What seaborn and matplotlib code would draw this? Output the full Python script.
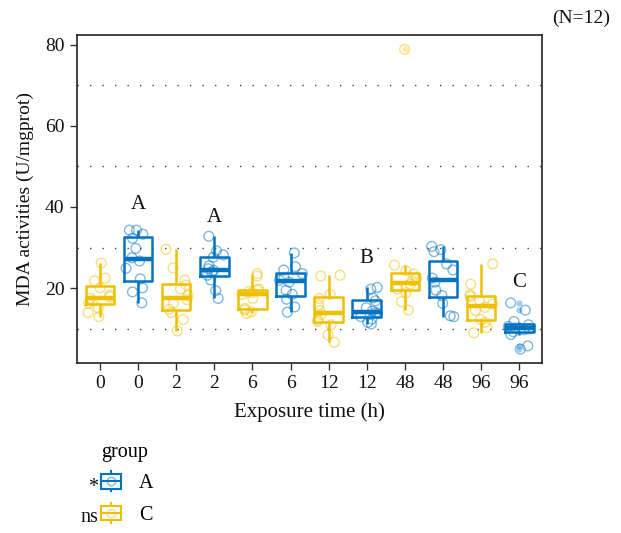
import numpy as np
import pandas as pd
import matplotlib
matplotlib.use("Agg")
import matplotlib.pyplot as plt
import seaborn as sns
from matplotlib.patches import Rectangle
from matplotlib.lines import Line2D
from matplotlib.legend_handler import HandlerTuple

# ---------------- data ----------------
times = ["0", "2", "6", "12", "48", "96"]
group_order = ["C", "A"]

c_0 = [26.2, 22.5, 21.8, 20.1, 18.3, 17.9, 17.5, 16.9, 16.3, 15.1, 14.0, 13.0]
a_0 = [16.4, 19.1, 20.1, 22.3, 24.9, 26.7, 27.5, 29.8, 32.3, 33.3, 34.3, 34.3]
c_2 = [9.5, 12.3, 14.0, 14.8, 16.3, 17.2, 18.2, 19.8, 20.8, 22.0, 25.0, 29.6]
a_2 = [17.5, 19.4, 22.0, 23.2, 24.0, 24.4, 24.8, 25.5, 27.6, 28.2, 29.2, 32.8]
c_6 = [13.8, 14.2, 14.6, 15.0, 17.5, 18.5, 18.9, 19.2, 19.5, 19.8, 23.0, 23.6]
a_6 = [14.1, 15.4, 17.3, 18.5, 19.5, 21.5, 22.0, 22.6, 23.6, 24.5, 25.3, 28.7]
c_12 = [6.7, 8.5, 11.0, 11.8, 12.2, 13.5, 14.5, 15.9, 17.5, 18.5, 23.0, 23.2]
a_12 = [11.2, 11.6, 12.4, 13.0, 13.8, 14.0, 14.4, 15.2, 16.9, 17.6, 19.8, 20.2]
c_48 = [14.6, 16.7, 18.9, 19.8, 20.5, 21.0, 21.8, 22.5, 23.5, 24.3, 25.7, 78.8]
a_48 = [13.0, 13.2, 16.3, 18.2, 19.5, 21.5, 22.5, 24.5, 26.0, 29.0, 29.5, 30.3]
c_96 = [9.0, 10.3, 11.6, 12.3, 14.5, 15.3, 16.1, 17.0, 18.0, 18.4, 21.0, 26.0]
a_96 = [5.0, 5.8, 8.6, 9.3, 9.8, 10.0, 10.2, 10.6, 11.0, 11.8, 14.6, 16.4]

series = {
    ("0", "C"): c_0, ("0", "A"): a_0,
    ("2", "C"): c_2, ("2", "A"): a_2,
    ("6", "C"): c_6, ("6", "A"): a_6,
    ("12", "C"): c_12, ("12", "A"): a_12,
    ("48", "C"): c_48, ("48", "A"): a_48,
    ("96", "C"): c_96, ("96", "A"): a_96,
}

letter_idx = [1, 3, 7, 11]
letter_txt = ["A", "A", "B", "C"]
letter_y = [40.5, 37.3, 27.4, 21.5]

legend_marks = {"A": "*", "C": "ns"}

BLUE = "#0073C2"
YELLOW = "#EFC000"
palette = {"A": BLUE, "C": YELLOW}

# ---------------- frame ----------------
cats, xlabels, rows = [], [], []
for t in times:
    for g in group_order:
        key = f"{t}_{g}"
        cats.append(key)
        xlabels.append(t)
        for v in series[(t, g)]:
            rows.append({"cat": key, "group": g, "value": v})
df = pd.DataFrame(rows)

plt.rcParams["font.family"] = ["Liberation Serif", "DejaVu Serif"]

fig = plt.figure(figsize=(6.21, 5.33), dpi=100)
ax = fig.add_axes([0.124, 0.319, 0.749, 0.615])

sns.boxplot(data=df, x="cat", y="value", hue="group", order=cats,
            hue_order=["A", "C"], palette=palette, fill=False, width=0.75,
            linewidth=1.8, medianprops={"linewidth": 3.2}, showcaps=False,
            flierprops={"marker": "o", "markersize": 4.5},
            dodge=False, legend=False, ax=ax)
for ln in ax.lines:
    if ln.get_marker() == "o":
        c = ln.get_markeredgecolor()
        ln.set_markerfacecolor(c)
        ln.set_markeredgewidth(0)
        ln.set_alpha(0.35)

np.random.seed(3)
n_before = len(ax.collections)
sns.stripplot(data=df, x="cat", y="value", hue="group", order=cats,
              hue_order=["A", "C"], palette=palette, jitter=0.33, size=7,
              dodge=False, legend=False, ax=ax, zorder=3)
for coll in ax.collections[n_before:]:
    fc = coll.get_facecolors()
    coll.set_edgecolors(fc)
    coll.set_facecolors("none")
    coll.set_linewidth(1.0)
    coll.set_alpha(0.5)

for i, s, y in zip(letter_idx, letter_txt, letter_y):
    ax.text(i, y, s, ha="center", va="center", fontsize=15, color="#111111")

ax.set_xlim(-0.6, 11.6)
ax.set_ylim(1.6, 82.3)
ax.set_xticks(range(len(cats)))
ax.set_xticklabels(xlabels)
ax.set_yticks([20, 40, 60, 80])
ax.set_yticks([10, 30, 50, 70], minor=True)
ax.grid(False)
ax.grid(which="minor", axis="y", linestyle=(0, (1, 8)), color="#444444",
        linewidth=1.0)
ax.tick_params(which="minor", length=0)
ax.tick_params(which="major", length=5, width=1.0, color="#333333",
               labelsize=14, labelcolor="#111111", pad=4)
for sp in ax.spines.values():
    sp.set_color("#222222")
    sp.set_linewidth(1.2)
ax.set_facecolor("white")

ax.set_xlabel("Exposure time (h)", fontsize=15, labelpad=7, color="#111111")
ax.set_ylabel("MDA activities (U/mgprot)", fontsize=14, labelpad=8,
              color="#111111")

fig.text(610 / 621, 1 - 18 / 533, "(N=12)", ha="right", va="center",
         fontsize=14, color="#111111")

# ---------------- legend ----------------
handles, labels = [], []
for g in ["A", "C"]:
    c = palette[g]
    wh = Line2D([], [], color=c, marker="|", markersize=16, markeredgewidth=1.5,
                linestyle="none")
    bx = Rectangle((0, 0), 1, 1, facecolor="white", edgecolor=c, linewidth=1.5)
    md = Line2D([], [], color=c, linewidth=1.5)
    pt = Line2D([], [], color=c, marker="o", markerfacecolor="none",
                markeredgecolor=c, markersize=6, alpha=0.5, linestyle="none")
    handles.append((wh, bx, md, pt))
    labels.append(g)

leg = fig.legend(handles, labels, title="group", loc="upper left",
                 bbox_to_anchor=(101 / 621, 1 - 443 / 533), frameon=False,
                 fontsize=14.5, title_fontsize=14.5, handlelength=1.0,
                 handleheight=0.75, handletextpad=0.9, labelspacing=0.6,
                 borderpad=0, borderaxespad=0, alignment="left",
                 handler_map={tuple: HandlerTuple(ndivide=1, pad=0)})

for g, yy in zip(["A", "C"], [487, 517]):
    fig.text(98 / 621, 1 - yy / 533, legend_marks[g], ha="right", va="center",
             fontsize=14.5, color="#111111")

fig.savefig("out.png", dpi=100, facecolor="white")
